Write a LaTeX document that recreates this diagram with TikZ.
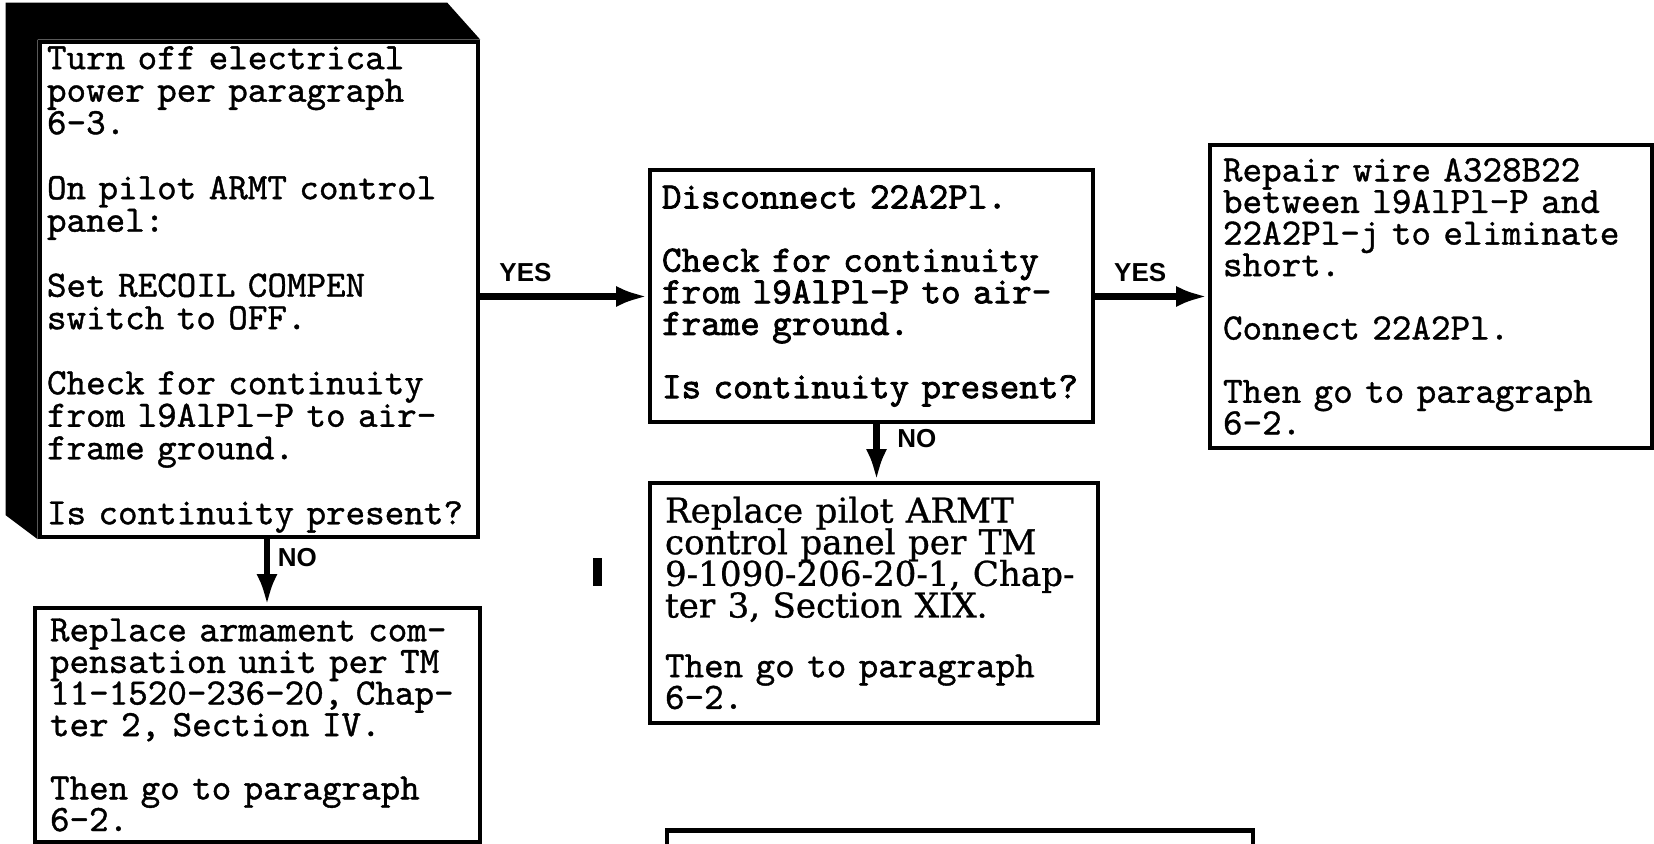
\documentclass[tikz,border=0pt]{standalone}
\usepackage{fontspec}
\usetikzlibrary{arrows.meta}
\newfontfamily\typefont[FakeBold=1.0]{lmmono10-regular.otf}
\newfontfamily\heavyfont[FakeBold=2.0]{lmmono10-regular.otf}
\newfontfamily\printfont[FakeBold=0.8]{DejaVu Serif}
\newfontfamily\labelfont{Liberation Sans}
\newcommand\boxtext{\typefont\fontsize{10.6}{9}\selectfont\lineskiplimit=-20pt}
\newcommand\checktext{\typefont\fontsize{10.6}{9.25}\selectfont\lineskiplimit=-20pt}
\newcommand\heavytext{\heavyfont\fontsize{10.6}{9}\selectfont\lineskiplimit=-20pt}
\newcommand\printtext{\printfont\fontsize{9.7}{9}\selectfont}

\begin{document}
\begin{tikzpicture}[
  box/.style={draw, line width=1.3pt, fill=white, align=left, inner ysep=0pt, font=\boxtext},
  arr/.style={line width=1.8pt, -{Latex[length=9pt,width=6pt]}},
  lbl/.style={font=\labelfont\bfseries\fontsize{7.4}{8}\selectfont}
]
  \clip (0,0) rectangle (16.54,8.44);

  % first check (with shadow)
  \node[box, font=\checktext, text width=4.24cm, inner xsep=0.07cm, minimum height=4.95cm] (check) at (2.59,5.545)
    {Turn off electrical\\ power per paragraph\\ 6-3.\\[9.25pt]
     On pilot ARMT control\\ panel:\\[9.25pt]
     Set RECOIL COMPEN\\ switch to OFF.\\[9.25pt]
     Check for continuity\\ from l9AlPl-P to air-\\ frame ground.\\[9.25pt]
     Is continuity present?};
  \fill (check.north east) -- ++(-0.33,0.37) -- ([shift={(-0.32,0.37)}]check.north west)
    -- ([shift={(-0.32,0.24)}]check.south west) -- (check.south west) -- (check.north west) -- cycle;

  % second check
  \node[box, font=\heavytext, text width=4.19cm, inner xsep=0.12cm, minimum height=2.52cm] (disc) at (8.715,5.48)
    {Disconnect 22A2Pl.\\[9pt]
     Check for continuity\\ from l9AlPl-P to air-\\ frame ground.\\[9pt]
     Is continuity present?};

  % repair (right)
  \node[box, text width=4.16cm, inner xsep=0.13cm, minimum height=3.03cm] (repair) at (14.31,5.475)
    {Repair wire A328B22\\ between l9AlPl-P and\\ 22A2Pl-j to eliminate\\ short.\\[9pt]
     Connect 22A2Pl.\\[9pt]
     Then go to paragraph\\ 6-2.};

  % replace unit (bottom left)
  \node[box, text width=4.15cm, inner xsep=0.15cm, minimum height=2.34cm] (unit) at (2.575,1.19)
    {Replace armament com-\\ pensation unit per TM\\ 11-1520-236-20, Chap-\\ ter 2, Section IV.\\[9pt]
     Then go to paragraph\\ 6-2.};

  % replace panel (bottom middle)
  \node[box, text width=4.18cm, inner xsep=0.15cm, minimum height=2.40cm] (panel) at (8.74,2.41)
    {{\printtext Replace pilot ARMT\\ control panel per TM\\ 9-1090-206-20-1, Chap-\\ ter 3, Section XIX.}\\[8pt]
     Then go to paragraph\\ 6-2.};

  % next box, cut off at the page edge
  \node[box, minimum width=5.86cm, minimum height=1cm, anchor=north] (next) at (9.60,0.16) {};

  % change bar
  \fill (5.93,2.86) rectangle (6.02,2.58);

  % YES branches
  \draw[arr] (check.east |- repair.west) -- node[lbl, above, pos=0.27] (yes1) {YES} (disc.west |- repair.west);
  \draw[arr] (disc.east |- repair.west) -- node[lbl, above, pos=0.40] (yes2) {YES} (repair.west);

  % NO branches
  \draw[arr] ([xshift=0.08cm]check.south) -- node[lbl, right, pos=0.27, xshift=-0.04cm] (no1) {NO}
    ([xshift=0.08cm]check.south |- unit.north);
  \draw[arr] ([xshift=0.05cm]disc.south) -- node[lbl, right, pos=0.26, xshift=0.06cm] (no2) {NO}
    ([xshift=0.05cm]disc.south |- panel.north);
\end{tikzpicture}
\end{document}
